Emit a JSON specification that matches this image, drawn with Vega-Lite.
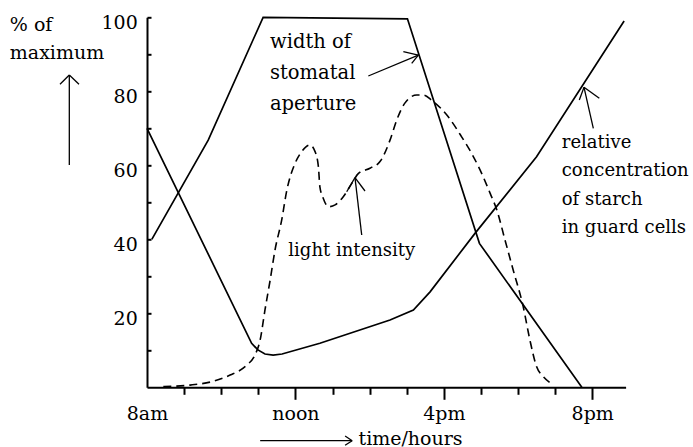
{
  "$schema": "https://vega.github.io/schema/vega-lite/v6.json",
  "width": 478.6,
  "height": 370,
  "autosize": {"type": "none"},
  "padding": {"left": 147, "top": 17.3, "right": 67.4, "bottom": 59.7},
  "background": "white",
  "config": {
    "view": {"stroke": null},
    "axis": {
      "grid": false,
      "domainColor": "black",
      "domainWidth": 2,
      "tickColor": "black",
      "tickWidth": 2,
      "labelFont": "DejaVu Serif",
      "labelFontSize": 19,
      "labelColor": "black",
      "labelOverlap": false,
      "labelBound": false,
      "labelFlush": false,
      "titleFont": "DejaVu Serif",
      "titleFontSize": 19,
      "titleFontWeight": "normal",
      "titleColor": "black"
    }
  },
  "datasets": {
    "curves": [
      {"series": "aperture", "h": 8.13, "v": 40},
      {"series": "aperture", "h": 9.65, "v": 66.8},
      {"series": "aperture", "h": 11.13, "v": 100},
      {"series": "aperture", "h": 15.02, "v": 99.6},
      {"series": "aperture", "h": 16.96, "v": 38.9},
      {"series": "aperture", "h": 19.72, "v": 0},
      {"series": "starch", "h": 8.0, "v": 70},
      {"series": "starch", "h": 10.82, "v": 11.9},
      {"series": "starch", "h": 10.99, "v": 10.1},
      {"series": "starch", "h": 11.18, "v": 9.0},
      {"series": "starch", "h": 11.4, "v": 8.7},
      {"series": "starch", "h": 11.64, "v": 9.0},
      {"series": "starch", "h": 12.66, "v": 11.9},
      {"series": "starch", "h": 14.55, "v": 18.2},
      {"series": "starch", "h": 15.18, "v": 20.9},
      {"series": "starch", "h": 15.63, "v": 25.8},
      {"series": "starch", "h": 16.84, "v": 41.6},
      {"series": "starch", "h": 18.5, "v": 62.3},
      {"series": "starch", "h": 20.86, "v": 99},
      {"series": "light", "h": 8.44, "v": 0.2},
      {"series": "light", "h": 9.16, "v": 0.6},
      {"series": "light", "h": 9.74, "v": 1.5},
      {"series": "light", "h": 10.24, "v": 3.3},
      {"series": "light", "h": 10.69, "v": 6.0},
      {"series": "light", "h": 10.91, "v": 8.7},
      {"series": "light", "h": 11.05, "v": 12.8},
      {"series": "light", "h": 11.18, "v": 20.9},
      {"series": "light", "h": 11.32, "v": 29.0},
      {"series": "light", "h": 11.45, "v": 37.1},
      {"series": "light", "h": 11.63, "v": 45.2},
      {"series": "light", "h": 11.77, "v": 53.3},
      {"series": "light", "h": 11.99, "v": 60.5},
      {"series": "light", "h": 12.17, "v": 63.7},
      {"series": "light", "h": 12.39, "v": 65.5},
      {"series": "light", "h": 12.53, "v": 63.7},
      {"series": "light", "h": 12.62, "v": 59.6},
      {"series": "light", "h": 12.66, "v": 54.2},
      {"series": "light", "h": 12.75, "v": 51.1},
      {"series": "light", "h": 12.89, "v": 48.8},
      {"series": "light", "h": 13.07, "v": 49.3},
      {"series": "light", "h": 13.29, "v": 51.5},
      {"series": "light", "h": 13.52, "v": 55.1},
      {"series": "light", "h": 13.7, "v": 57.8},
      {"series": "light", "h": 14.01, "v": 59.2},
      {"series": "light", "h": 14.28, "v": 61.0},
      {"series": "light", "h": 14.55, "v": 66.8},
      {"series": "light", "h": 14.73, "v": 72.2},
      {"series": "light", "h": 14.95, "v": 76.8},
      {"series": "light", "h": 15.27, "v": 79.0},
      {"series": "light", "h": 15.45, "v": 79.0},
      {"series": "light", "h": 15.67, "v": 77.6},
      {"series": "light", "h": 16.12, "v": 73.1},
      {"series": "light", "h": 16.48, "v": 67.7},
      {"series": "light", "h": 16.75, "v": 63.2},
      {"series": "light", "h": 16.98, "v": 58.7},
      {"series": "light", "h": 17.25, "v": 52.4},
      {"series": "light", "h": 17.43, "v": 47.9},
      {"series": "light", "h": 17.65, "v": 39.8},
      {"series": "light", "h": 17.87, "v": 31.7},
      {"series": "light", "h": 18.14, "v": 21.8},
      {"series": "light", "h": 18.32, "v": 12.8},
      {"series": "light", "h": 18.5, "v": 5.6},
      {"series": "light", "h": 18.68, "v": 2.9},
      {"series": "light", "h": 18.87, "v": 1.2}
    ],
    "arrows": [
      {"h": 5.906, "v": 60.1, "h2": 5.906, "v2": 84.4},
      {"h": 5.655, "v": 81.9, "h2": 5.906, "v2": 84.4},
      {"h": 6.167, "v": 81.9, "h2": 5.906, "v2": 84.4},
      {"h": 11.05, "v": -14.43, "h2": 13.53, "v2": -14.43},
      {"h": 13.34, "v": -13.16, "h2": 13.53, "v2": -14.43},
      {"h": 13.34, "v": -15.68, "h2": 13.53, "v2": -14.43},
      {"h": 13.965, "v": 84.14, "h2": 15.313, "v2": 89.8},
      {"h": 14.909, "v": 90.7, "h2": 15.313, "v2": 89.8},
      {"h": 15.135, "v": 87.57, "h2": 15.313, "v2": 89.8},
      {"h": 13.787, "v": 41.16, "h2": 13.606, "v2": 56.65},
      {"h": 13.383, "v": 52.86, "h2": 13.606, "v2": 56.65},
      {"h": 13.876, "v": 53.05, "h2": 13.606, "v2": 56.65},
      {"h": 20.03, "v": 70.0, "h2": 19.779, "v2": 81.08},
      {"h": 19.652, "v": 77.65, "h2": 19.779, "v2": 81.08},
      {"h": 20.191, "v": 78.1, "h2": 19.779, "v2": 81.08}
    ],
    "notes": [
      {"key": "aperture", "h": 11.315, "v": 91.8, "text": "width of\nstomatal\naperture"},
      {"key": "light", "h": 11.81, "v": 35.5, "text": "light intensity"},
      {"key": "starch", "h": 19.18, "v": 64.6, "text": "relative\nconcentration\nof starch\nin guard cells"}
    ]
  },
  "encoding": {
    "x": {
      "field": "h",
      "type": "quantitative",
      "scale": {"domain": [8, 20.9], "nice": false, "zero": false},
      "axis": {
        "values": [8, 9, 10, 11, 12, 13, 14, 15, 16, 17, 18, 19, 20],
        "labelExpr": "datum.value == 8 ? '8am' : datum.value == 12 ? 'noon' : datum.value == 16 ? '4pm' : datum.value == 20 ? '8pm' : ''",
        "tickSize": {"condition": {"test": "datum.value % 4 == 0", "value": 12}, "value": 7},
        "tickOpacity": {"condition": {"test": "datum.value == 8", "value": 0}, "value": 1},
        "labelBaseline": "alphabetic",
        "labelPadding": 19.7,
        "title": "time/hours",
        "titleAngle": 0,
        "titleAlign": "left",
        "titleBaseline": "alphabetic",
        "titleX": 211,
        "titleY": 56.7
      }
    },
    "y": {
      "field": "v",
      "type": "quantitative",
      "scale": {"domain": [0, 100], "nice": false, "zero": false},
      "axis": {
        "values": [10, 20, 30, 40, 50, 60, 70, 80, 90, 100],
        "labelExpr": "datum.value % 20 == 0 ? datum.label : ''",
        "tickSize": -4,
        "labelPadding": 13.7,
        "labelBaseline": "alphabetic",
        "labelOffset": 11,
        "title": ["% of", "maximum"],
        "titleAngle": 0,
        "titleAlign": "left",
        "titleBaseline": "alphabetic",
        "titleLineHeight": 28.3,
        "titleX": -137.7,
        "titleY": 12.7
      }
    }
  },
  "layer": [
    {
      "data": {"name": "curves"},
      "transform": [{"filter": "datum.series != 'light'"}],
      "mark": {"type": "line", "color": "black", "strokeWidth": 1.7},
      "encoding": {"detail": {"field": "series"}}
    },
    {
      "data": {"name": "curves"},
      "transform": [{"filter": "datum.series == 'light'"}],
      "mark": {"type": "line", "color": "black", "strokeWidth": 1.6, "strokeDash": [8, 5], "interpolate": "monotone"},
      "encoding": {}
    },
    {
      "data": {"name": "arrows"},
      "mark": {"type": "rule", "color": "black", "strokeWidth": 1.3},
      "encoding": {"x2": {"field": "h2"}, "y2": {"field": "v2"}}
    },
    {
      "data": {"name": "notes"},
      "transform": [{"filter": "datum.key == 'aperture'"}],
      "mark": {"type": "text", "align": "left", "baseline": "alphabetic", "lineBreak": "\n", "lineHeight": 31, "font": "DejaVu Serif", "fontSize": 19.5, "color": "black"},
      "encoding": {"text": {"field": "text"}}
    },
    {
      "data": {"name": "notes"},
      "transform": [{"filter": "datum.key != 'aperture'"}],
      "mark": {"type": "text", "align": "left", "baseline": "alphabetic", "lineBreak": "\n", "lineHeight": 28.2, "font": "DejaVu Serif", "fontSize": 18, "color": "black"},
      "encoding": {"text": {"field": "text"}}
    }
  ]
}
